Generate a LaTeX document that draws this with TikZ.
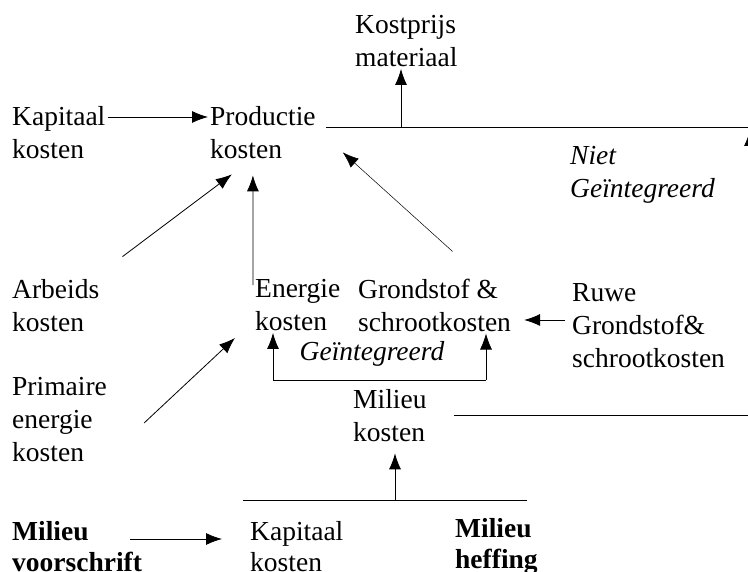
\documentclass[tikz,border=0pt]{standalone}
\usepackage{fontspec}
\setmainfont{Liberation Serif}
\usetikzlibrary{arrows.meta}

\begin{document}
\begin{tikzpicture}[x=1pt,y=1pt,
  txt/.style={anchor=west,align=left,inner sep=2pt,font=\fontsize{27.5}{33}\selectfont},
  pijl/.style={-{Latex[length=16pt,width=12pt]},line width=0.8pt},
  lijn/.style={line width=0.8pt}]
\useasboundingbox (0,0) rectangle (748,572);
\node[txt] (v0) at (10,439) {Kapitaal\\kosten};
\node[txt] (v1) at (208,439) {Productie\\kosten};
\node[txt] (v2) at (353,531) {Kostprijs\\materiaal};
\node[txt,font=\fontsize{27.5}{33}\selectfont\itshape] (v3) at (568,397) {Niet\\Geïntegreerd};
\node[txt] (v4) at (10,266) {Arbeids\\kosten};
\node[txt] (v5) at (253,267) {Energie\\kosten};
\node[txt] (v6) at (356,267) {Grondstof \&\\schrootkosten};
\node[txt] (v7) at (570,246) {Ruwe\\Grondstof\&\\schrootkosten};
\node[txt,anchor=center,font=\fontsize{27.5}{33}\selectfont\itshape] (v8) at (372,218) {Geïntegreerd};
\node[txt] (v9) at (351,156) {Milieu\\kosten};
\node[txt] (v10) at (10,152) {Primaire\\energie\\kosten};
\node[txt,font=\fontsize{27.5}{31}\selectfont\bfseries] (v11) at (10,25) {Milieu\\voorschrift};
\node[txt,font=\fontsize{27.5}{31}\selectfont] (v12) at (248,25) {Kapitaal\\kosten};
\node[txt,font=\fontsize{27.5}{31}\selectfont\bfseries] (v13) at (453,25) {Milieu\\heffing};
\coordinate (rand) at (748,445);
\coordinate (split) at (401,445);
\coordinate (nietA) at (750,380);
\coordinate (nietB) at (750,442);
\coordinate (bl) at (273,192);
\coordinate (br) at (486,192);
\coordinate (rand2) at (748,157);
\coordinate (ol) at (243,72);
\coordinate (or) at (527,72);
\coordinate (heff) at (395,72);
\draw [pijl] ([yshift=16pt]v0.east) -- ([yshift=16pt]v1.west);
\draw [lijn] ([xshift=8pt,yshift=6pt]v1.east) -- (rand);
\draw [pijl] (split) -- (split |- v2.south);
\draw [pijl] (nietA) -- (nietB);
\draw [pijl] ([xshift=21pt,yshift=21pt]v4.north east) -- ([xshift=-31pt,yshift=-13pt]v1.south);
\draw [pijl] ([yshift=-8pt]v5.north west) -- ([xshift=-10pt,yshift=-14pt]v1.south);
\draw [-{Latex[length=16pt,width=12pt]},line width=0.5pt] ([xshift=18pt,yshift=25pt]v6.north) -- ([xshift=25pt,yshift=9pt]v1.south east);
\draw [pijl] ([xshift=-5pt,yshift=6pt]v7.west) -- ([xshift=11pt,yshift=-15pt]v6.east);
\draw [pijl] (bl) -- (bl |- v5.south);
\draw [lijn] (bl) -- (br);
\draw [pijl] (br) -- (br |- v6.south);
\draw [pijl] ([xshift=35pt,yshift=-3pt]v10.east) -- ([xshift=-18pt,yshift=-5pt]v5.south west);
\draw [lijn] ([xshift=25pt,yshift=1pt]v9.east) -- (rand2);
\draw [lijn] (ol) -- (or);
\draw [pijl,shorten >=9pt] (heff) -- (heff |- v9.south);
\draw [pijl] ([xshift=-14pt,yshift=8pt]v11.east) -- ([xshift=-26pt,yshift=8pt]v12.west);
\end{tikzpicture}
\end{document}
